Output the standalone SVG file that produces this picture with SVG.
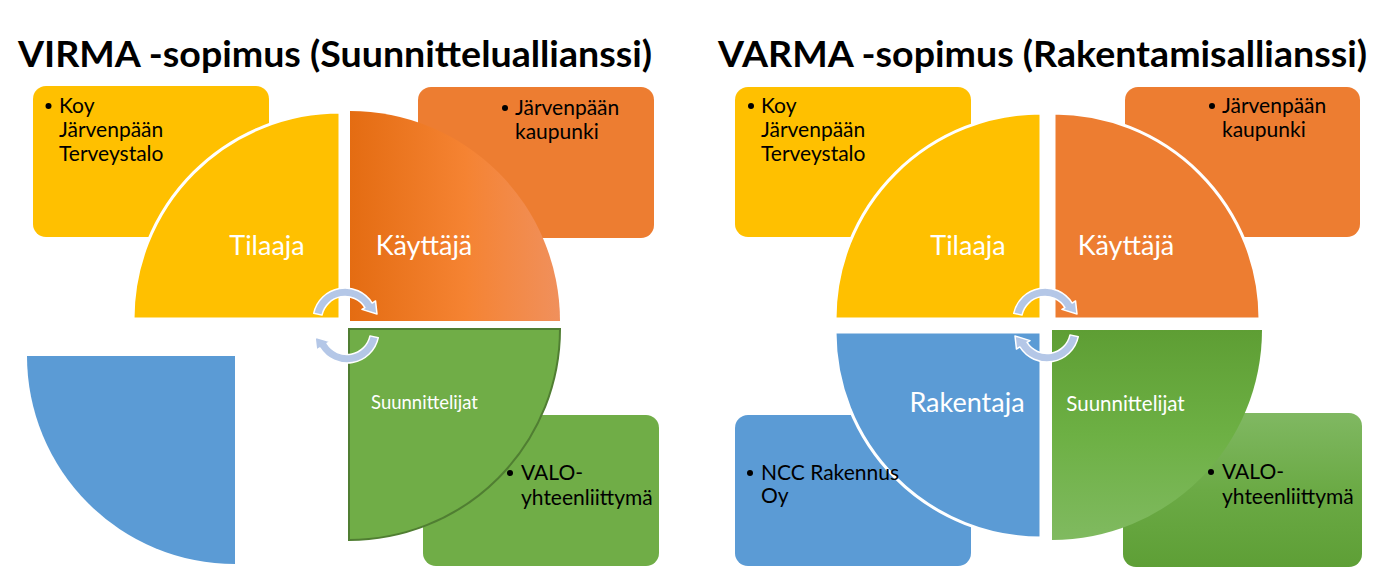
<svg xmlns="http://www.w3.org/2000/svg" width="1399" height="584" viewBox="0 0 1399 584">
<style>
.title{font-family:Lato,"Liberation Sans",sans-serif;font-weight:bold;font-size:36px;fill:#000}
.bt{font-family:Lato,"Liberation Sans",sans-serif;font-size:21px;fill:#000}
.lbl{font-family:Lato,"Liberation Sans",sans-serif;font-size:27px;fill:#fff;text-anchor:middle}
.lbls{font-family:Lato,"Liberation Sans",sans-serif;fill:#fff;text-anchor:middle}
.yel{fill:#FFC000}
.ora{fill:#ED7D31}
.grn{fill:#70AD47}
.blu{fill:#5B9BD5}
.ws{stroke:#fff;stroke-width:3}
.arr{fill:#B4C7E7;stroke:#fff;stroke-width:1.5;stroke-linejoin:round}
</style>
<defs>
<linearGradient id="gOra" x1="0" y1="0" x2="1" y2="0">
<stop offset="0" stop-color="#E46C12"/>
<stop offset="0.55" stop-color="#F58332"/>
<stop offset="1" stop-color="#F0905C"/>
</linearGradient>
<linearGradient id="gGrnQ" x1="0" y1="0" x2="0" y2="1">
<stop offset="0" stop-color="#5E9E34"/>
<stop offset="0.5" stop-color="#6DB044"/>
<stop offset="1" stop-color="#80BA60"/>
</linearGradient>
<linearGradient id="gGrnB" x1="0" y1="0" x2="0" y2="1">
<stop offset="0" stop-color="#80B862"/>
<stop offset="0.5" stop-color="#6BAA45"/>
<stop offset="1" stop-color="#5E9F36"/>
</linearGradient>
<path id="arc" d="M-31.30,-6.65 A32,32 0 0 1 27.14,-16.96 L30.53,-19.08 L32,-6 L16.96,-10.60 L19.93,-12.45 A23.5,23.5 0 0 0 -22.99,-4.89 Z"/>
</defs>
<rect width="1399" height="584" fill="#fff"/>

<text class="title" x="18" y="67" textLength="634" lengthAdjust="spacingAndGlyphs">VIRMA -sopimus (Suunnitteluallianssi)</text>
<text class="title" x="718" y="67" textLength="649" lengthAdjust="spacingAndGlyphs">VARMA -sopimus (Rakentamisallianssi)</text>

<!-- Left diagram: boxes -->
<g id="virma-box-tilaaja">
<rect class="yel" x="33" y="86" width="236" height="151" rx="13"/>
</g>
<g id="virma-box-kayttaja">
<rect class="ora" x="418" y="87" width="236" height="151" rx="13"/>
</g>
<g id="virma-box-suunnittelijat">
<rect class="grn" x="423" y="415" width="236" height="151" rx="13"/>
</g>
<!-- Left diagram: quadrants -->
<g id="virma-rakentaja">
<path class="blu" d="M235,356 L235,564 A208,208 0 0 1 27,356 Z"/>
</g>
<g id="virma-tilaaja">
<path class="yel ws" d="M340,319 L133,319 A207,207 0 0 1 340,112 Z"/>
<text class="lbl" x="267" y="255">Tilaaja</text>
</g>
<g id="virma-kayttaja">
<path fill="url(#gOra)" d="M350,321 L350,111 A210,210 0 0 1 560,321 Z"/>
<text class="lbl" x="424" y="255">Käyttäjä</text>
</g>
<g id="virma-suunnittelijat">
<path class="grn" stroke="#507E32" stroke-width="2" d="M349,329 L560,329 A211,211 0 0 1 349,540 Z"/>
<text class="lbls" x="424.5" y="409" font-size="18.5">Suunnittelijat</text>
</g>
<!-- Left diagram: box texts -->
<g id="virma-box-tilaaja-text">
<circle cx="48.5" cy="106" r="3"/>
<text class="bt" x="59" y="113">Koy</text>
<text class="bt" x="59" y="137">Järvenpään</text>
<text class="bt" x="59" y="161">Terveystalo</text>
</g>
<g id="virma-box-kayttaja-text">
<circle cx="505" cy="108" r="3"/>
<text class="bt" x="515" y="115">Järvenpään</text>
<text class="bt" x="515" y="139">kaupunki</text>
</g>
<g id="virma-box-suunnittelijat-text">
<circle cx="510" cy="473" r="3"/>
<text class="bt" x="521" y="480">VALO-</text>
<text class="bt" x="521" y="505">yhteenliittymä</text>
</g>

<!-- Right diagram: boxes -->
<g id="varma-box-tilaaja">
<rect class="yel" x="735" y="87" width="236" height="150" rx="13"/>
</g>
<g id="varma-box-kayttaja">
<rect class="ora" x="1125" y="87" width="235" height="150" rx="13"/>
</g>
<g id="varma-box-rakentaja">
<rect class="blu" x="735" y="415" width="236" height="151" rx="13"/>
</g>
<g id="varma-box-suunnittelijat">
<rect fill="url(#gGrnB)" x="1123" y="413" width="239" height="154" rx="13"/>
</g>
<!-- Right diagram: quadrants -->
<g id="varma-tilaaja">
<path class="yel ws" d="M1041,319 L835,319 A206,206 0 0 1 1041,113 Z"/>
<text class="lbl" x="968" y="255">Tilaaja</text>
</g>
<g id="varma-kayttaja">
<path class="ora ws" d="M1054,319 L1054,113 A206,206 0 0 1 1260,319 Z"/>
<text class="lbl" x="1126" y="255">Käyttäjä</text>
</g>
<g id="varma-rakentaja">
<path class="blu ws" d="M1041,332 L1041,538 A206,206 0 0 1 835,332 Z"/>
<text class="lbl" x="967" y="412" font-size="26">Rakentaja</text>
</g>
<g id="varma-suunnittelijat">
<path fill="url(#gGrnQ)" d="M1052,330 L1262,330 A210,210 0 0 1 1052,540 Z"/>
<text class="lbls" x="1125.5" y="411" font-size="20.5">Suunnittelijat</text>
</g>
<!-- Right diagram: box texts -->
<g id="varma-box-tilaaja-text">
<circle cx="751" cy="106" r="3"/>
<text class="bt" x="761" y="113">Koy</text>
<text class="bt" x="761" y="137">Järvenpään</text>
<text class="bt" x="761" y="161">Terveystalo</text>
</g>
<g id="varma-box-kayttaja-text">
<circle cx="1212" cy="106" r="3"/>
<text class="bt" x="1222" y="113">Järvenpään</text>
<text class="bt" x="1222" y="137">kaupunki</text>
</g>
<g id="varma-box-rakentaja-text">
<circle cx="750" cy="473" r="3"/>
<text class="bt" x="761" y="480">NCC Rakennus</text>
<text class="bt" x="761" y="503">Oy</text>
</g>
<g id="varma-box-suunnittelijat-text">
<circle cx="1211" cy="472" r="3"/>
<text class="bt" x="1222" y="479">VALO-</text>
<text class="bt" x="1222" y="504">yhteenliittymä</text>
</g>

<!-- connectors: circular arrows -->
<g id="connectors">
<use href="#arc" class="arr" transform="translate(345,320)"/>
<use href="#arc" class="arr" transform="translate(347,331) rotate(180)"/>
<use href="#arc" class="arr" transform="translate(1045,320)"/>
<use href="#arc" class="arr" transform="translate(1047,330) rotate(180)"/>
</g>
</svg>
